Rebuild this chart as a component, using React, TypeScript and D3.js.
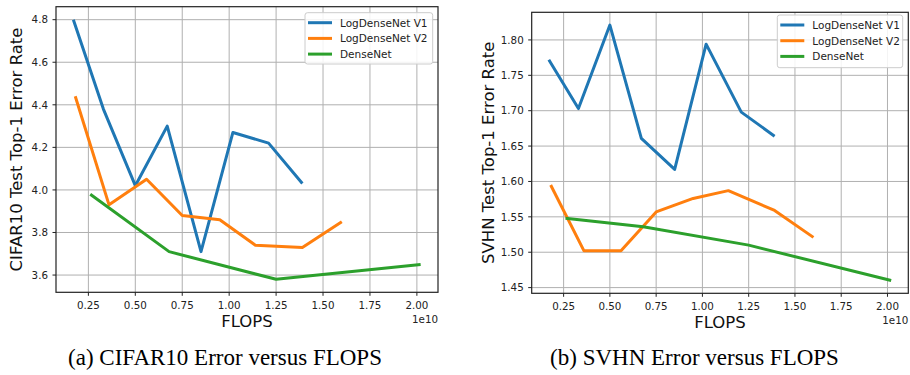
import React from "react";
import * as d3 from "d3";

// FLOPS in units of 1e10
const v1Flops = [0.17, 0.33, 0.5, 0.67, 0.85, 1.02, 1.21, 1.39];
const v2Flops = [0.18, 0.36, 0.56, 0.75, 0.95, 1.14, 1.39, 1.6];
const denseFlops = [0.26, 0.68, 1.25, 2.02];

const cifarV1 = [4.8, 4.38, 4.02, 4.3, 3.71, 4.27, 4.22, 4.03];
const cifarV2 = [4.44, 3.93, 4.05, 3.88, 3.86, 3.74, 3.73, 3.85];
const cifarDense = [3.98, 3.71, 3.58, 3.65];

const svhnV1 = [1.772, 1.703, 1.821, 1.661, 1.617, 1.794, 1.698, 1.664];
const svhnV2 = [1.595, 1.502, 1.502, 1.557, 1.576, 1.587, 1.559, 1.521];
const svhnDense = [1.548, 1.536, 1.51, 1.46];

const xTicks = [0.25, 0.5, 0.75, 1.0, 1.25, 1.5, 1.75, 2.0];
const cifarYTicks = [3.6, 3.8, 4.0, 4.2, 4.4, 4.6, 4.8];
const svhnYTicks = [1.45, 1.5, 1.55, 1.6, 1.65, 1.7, 1.75, 1.8];

const seriesNames = ["LogDenseNet V1", "LogDenseNet V2", "DenseNet"];
const colors = ["#1f77b4", "#ff7f0e", "#2ca02c"];

const FONT = "DejaVu Sans, sans-serif";

type Box = { x0: number; x1: number; y0: number; y1: number };

const pad = (ext: [number, number]): [number, number] => {
  const r = ext[1] - ext[0];
  return [ext[0] - r * 0.05, ext[1] + r * 0.05];
};

const Panel = ({ box, series, yTicks, yFmt, ylabel, ylabelX, legend, caption, captionX }: any) => {
  const allX = [...v1Flops, ...v2Flops, ...denseFlops];
  const allY = series.flat();
  const x = d3.scaleLinear().domain(pad(d3.extent(allX) as [number, number])).range([box.x0, box.x1]);
  const y = d3.scaleLinear().domain(pad(d3.extent(allY) as [number, number])).range([box.y1, box.y0]);
  const xs = [v1Flops, v2Flops, denseFlops];
  const line = d3.line<[number, number]>().x((d) => x(d[0])).y((d) => y(d[1]));
  const fmtY = d3.format(yFmt);
  const fmtX = d3.format(".2f");
  const cy = (box.y0 + box.y1) / 2;
  const cx = (box.x0 + box.x1) / 2;

  return (
    <g fontFamily={FONT}>
      <defs>
        <clipPath id={`clip-${ylabelX}`}>
          <rect x={box.x0} y={box.y0} width={box.x1 - box.x0} height={box.y1 - box.y0} />
        </clipPath>
      </defs>
      {xTicks.map((t) => (
        <line key={"gx" + t} x1={x(t)} x2={x(t)} y1={box.y0} y2={box.y1} stroke="#b0b0b0" strokeWidth={1} />
      ))}
      {yTicks.map((t: number) => (
        <line key={"gy" + t} x1={box.x0} x2={box.x1} y1={y(t)} y2={y(t)} stroke="#b0b0b0" strokeWidth={1} />
      ))}
      <g clipPath={`url(#clip-${ylabelX})`}>
        {series.map((vals: number[], i: number) => (
          <path
            key={i}
            d={line(vals.map((v, j) => [xs[i][j], v]) as [number, number][]) || ""}
            fill="none"
            stroke={colors[i]}
            strokeWidth={3}
            strokeLinejoin="round"
          />
        ))}
      </g>
      <rect x={box.x0} y={box.y0} width={box.x1 - box.x0} height={box.y1 - box.y0} fill="none" stroke="#222" strokeWidth={1.2} />
      {xTicks.map((t) => (
        <g key={"tx" + t}>
          <line x1={x(t)} x2={x(t)} y1={box.y1} y2={box.y1 + 3.5} stroke="#222" strokeWidth={1} />
          <text x={x(t)} y={box.y1 + 16.5} fontSize={10.3} textAnchor="middle" fill="#222">
            {fmtX(t)}
          </text>
        </g>
      ))}
      {yTicks.map((t: number) => (
        <g key={"ty" + t}>
          <line x1={box.x0 - 3.5} x2={box.x0} y1={y(t)} y2={y(t)} stroke="#222" strokeWidth={1} />
          <text x={box.x0 - 8} y={y(t) + 3.8} fontSize={10.3} textAnchor="end" fill="#222">
            {fmtY(t)}
          </text>
        </g>
      ))}
      <text x={box.x1} y={box.y1 + 30.5} fontSize={10.3} textAnchor="end" fill="#222">
        1e10
      </text>
      <text x={cx} y={box.y1 + 34.5} fontSize={16.5} textAnchor="middle" fill="#111">
        FLOPS
      </text>
      <text
        transform={`translate(${ylabelX},${cy}) rotate(-90)`}
        fontSize={16.5}
        textAnchor="middle"
        fill="#111"
      >
        {ylabel}
      </text>
      <g transform={`translate(${legend.x},${legend.y})`}>
        <rect width={legend.w} height={legend.h} rx={2.5} fill="white" fillOpacity={0.85} stroke="#cccccc" strokeWidth={1} />
        {seriesNames.map((n, i) => (
          <g key={n} transform={`translate(0,${10 + i * 15.7})`}>
            <line x1={3} x2={27} stroke={colors[i]} strokeWidth={3} />
            <text x={35} y={3.8} fontSize={10.5} fill="#222">
              {n}
            </text>
          </g>
        ))}
      </g>
      <text x={captionX} y={365} fontFamily="Liberation Serif, Times New Roman, serif" fontSize={23} textAnchor="middle" fill="#000">
        {caption}
      </text>
    </g>
  );
};

export default function App() {
  return (
    <svg width={910} height={375} style={{ position: "absolute", left: 0, top: 0, background: "white" }}>
      <Panel
        box={{ x0: 56, x1: 438, y0: 6.7, y1: 292.3 } as Box}
        series={[cifarV1, cifarV2, cifarDense]}
        yTicks={cifarYTicks}
        yFmt=".1f"
        ylabel="CIFAR10 Test Top-1 Error Rate"
        ylabelX={22}
        legend={{ x: 305, y: 12.7, w: 127.7, h: 51.3 }}
        caption="(a) CIFAR10 Error versus FLOPS"
        captionX={225}
      />
      <Panel
        box={{ x0: 531.7, x1: 908.3, y0: 12.3, y1: 293.3 } as Box}
        series={[svhnV1, svhnV2, svhnDense]}
        yTicks={svhnYTicks}
        yFmt=".2f"
        ylabel="SVHN Test Top-1 Error Rate"
        ylabelX={494}
        legend={{ x: 777.3, y: 15, w: 125.4, h: 52.7 }}
        caption="(b) SVHN Error versus FLOPS"
        captionX={694.5}
      />
    </svg>
  );
}
